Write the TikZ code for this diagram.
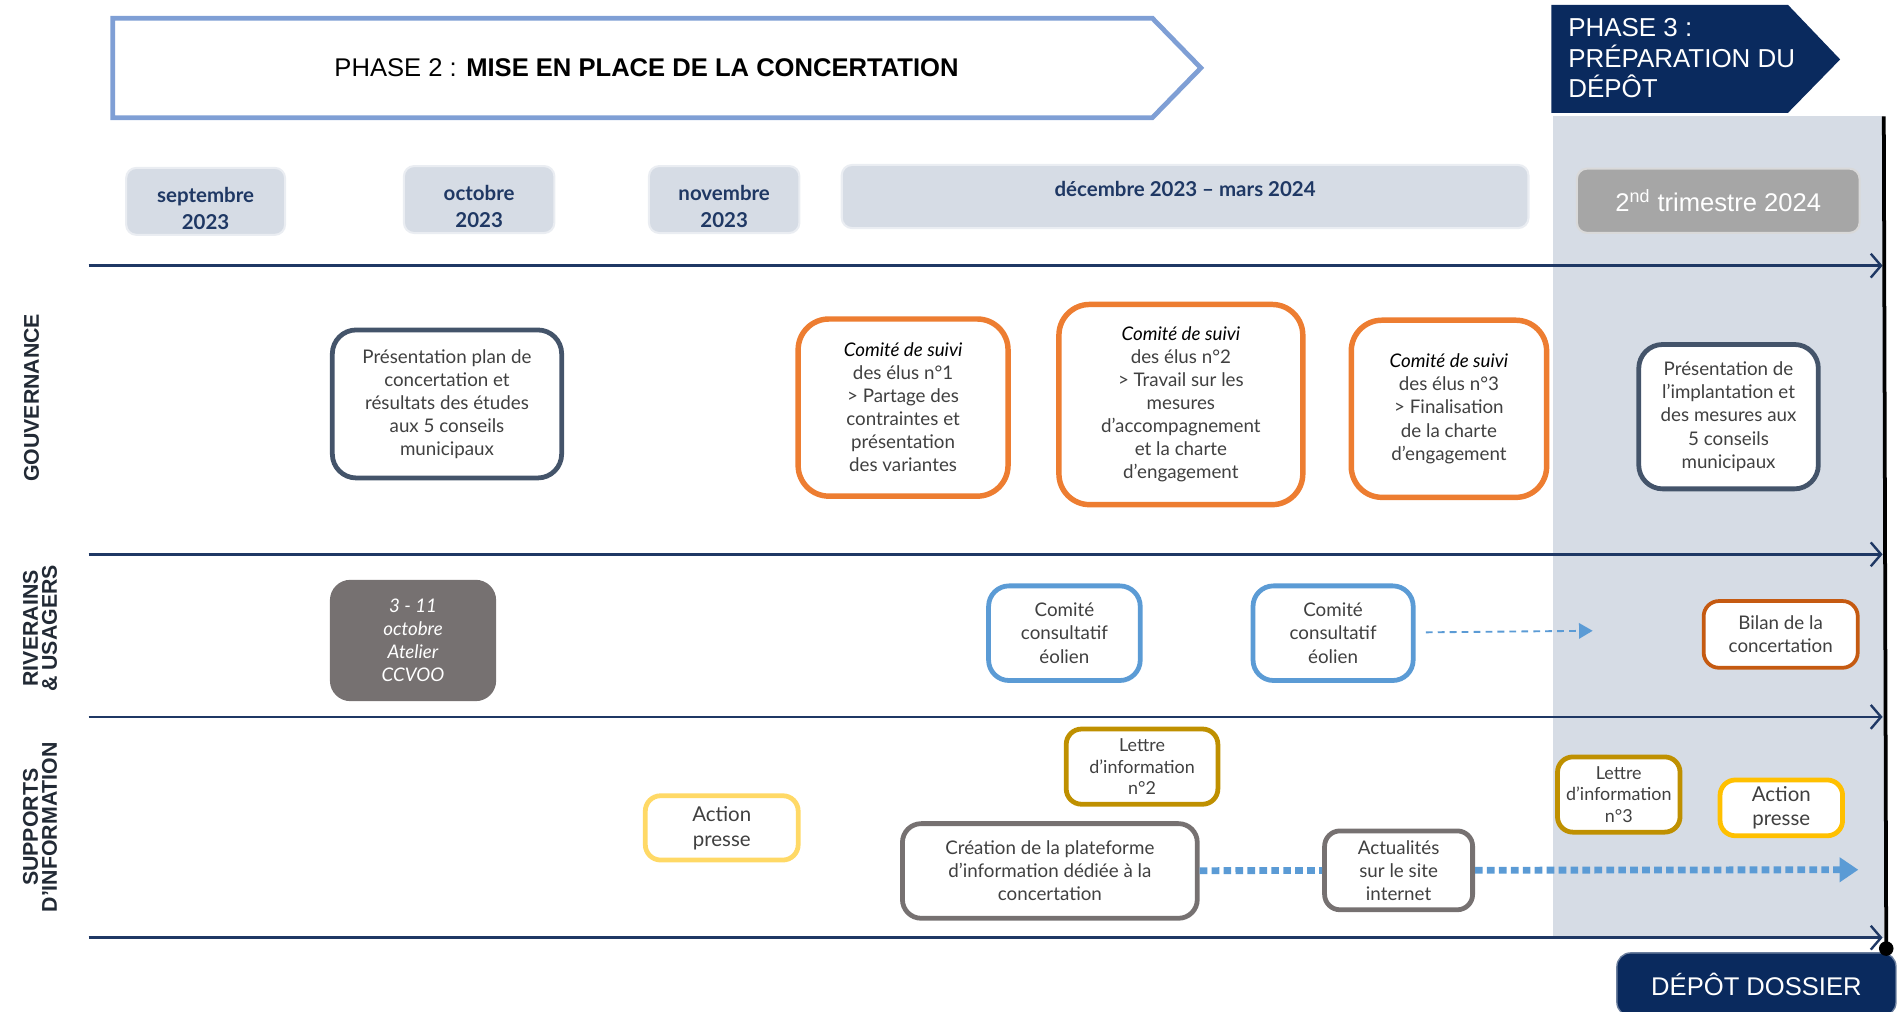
\documentclass[tikz,border=0pt]{standalone}
\usepackage{fontspec}
\setmainfont{Lato}
\newfontfamily\arialf{Liberation Sans}
\usetikzlibrary{%
  arrows.meta,%
  calc%
}
\definecolor{navy}{RGB}{31,56,100}
\definecolor{deepnavy}{RGB}{10,42,94}
\definecolor{mistblue}{RGB}{214,220,229}
\definecolor{phaseblue}{RGB}{127,159,213}
\definecolor{slate}{RGB}{68,84,106}
\definecolor{orangeb}{RGB}{237,125,49}
\definecolor{darkorange}{RGB}{197,90,17}
\definecolor{blueb}{RGB}{91,155,213}
\definecolor{paleyellow}{RGB}{255,217,102}
\definecolor{gold}{RGB}{191,144,0}
\definecolor{amber}{RGB}{255,192,0}
\definecolor{stone}{RGB}{118,113,113}
\definecolor{textgray}{RGB}{64,64,64}
\definecolor{labelnavy}{RGB}{34,42,53}

\begin{document}
\begin{tikzpicture}[x=0.025cm,y=-0.025cm,
  box/.style={draw,rounded corners=14pt,line width=2.8pt,fill=white,align=center,inner sep=1pt,text=textgray,font=\fontsize{11}{13.5}\selectfont},
  small/.style={box,rounded corners=9pt},
  month/.style={draw=mistblue!50!white,line width=1.2pt,fill=mistblue,rounded corners=6pt,align=center,text=navy,font=\bfseries\fontsize{12}{15.5}\selectfont},
  lane/.style={draw=navy,line width=1.4pt,-{Straight Barb[length=6pt,width=14pt]}},
  lanetitle/.style={rotate=90,align=center,text=labelnavy,font=\arialf\bfseries\fontsize{12.5}{11}\selectfont},
  web/.style={blueb,line width=4pt,dash pattern=on 4.5pt off 2.5pt}
]
\useasboundingbox (0,0) rectangle (1568,833.5);
\fill[mistblue] (1280,96) rectangle (1553,773);
%
\draw[phaseblue,line width=2.8pt,fill=white] (93,15) -- (950,15) -- (990,56) -- (950,97) -- (93,97) -- cycle;
\node[font=\arialf\fontsize{15}{17}\selectfont] (ph2) at (533,56) {PHASE 2 : \textbf{MISE EN PLACE DE LA CONCERTATION}};
\fill[deepnavy] (1279,4) -- (1474,4) -- (1517,49) -- (1474,93) -- (1279,93) -- cycle;
\node[anchor=west,align=left,text=white,font=\arialf\fontsize{15.2}{18}\selectfont] (ph3) at (1288,48) {PHASE 3 :\\PRÉPARATION DU\\DÉPÔT};
%
\node[month,minimum width=3.275cm,minimum height=1.25cm] (sep) at (169.5,166) {\rule{0pt}{17pt}septembre\\2023};
\node[month,minimum width=3.1cm,minimum height=1.275cm] (oct) at (395,164.5) {\rule{0pt}{17pt}octobre\\2023};
\node[month,minimum width=3.1cm,minimum height=1.275cm] (nov) at (597,164.5) {\rule{0pt}{17pt}novembre\\2023};
\node[month,minimum width=14.15cm,minimum height=1.3cm] (dec) at (977,162) {\rule[-9pt]{0pt}{0pt}décembre 2023 – mars 2024};
\node[month,fill=black!35,draw=black!15,text=white,font=\arialf\fontsize{15}{18}\selectfont,minimum width=5.825cm,minimum height=1.325cm] (tri) at (1416.5,165.5) {2\textsuperscript{nd} trimestre 2024};
%
\foreach \y/\n in {219/a,457/b,591/c,773/d}{
  \coordinate (\n w) at (73,\y);
  \coordinate (\n e) at (1552,\y);
  \draw[lane] (\n w) -- (\n e);
}
\node[lanetitle] (gouv) at (26,328) {GOUVERNANCE};
\node[lanetitle] (riv) at (33,518) {RIVERAINS\\\& USAGERS};
\node[lanetitle] (supp) at (33,682) {SUPPORTS\\D’INFORMATION};
%
\node[box,draw=slate,minimum width=4.725cm,minimum height=3.05cm] (P1) at (368.5,333) {Présentation plan de\\concertation et\\résultats des études\\aux 5 conseils\\municipaux};
\node[box,draw=orangeb,line width=3.2pt,rounded corners=18pt,minimum width=4.325cm,minimum height=3.65cm] (C1) at (744.5,336) {\textcolor{black}{\textit{Comité de suivi}}\\des élus n°1\\> Partage des\\contraintes et\\présentation\\des variantes};
\node[box,draw=orangeb,line width=3.2pt,rounded corners=18pt,minimum width=5.025cm,minimum height=4.125cm] (C2) at (973.5,333.5) {\textcolor{black}{\textit{Comité de suivi}}\\des élus n°2\\> Travail sur les\\mesures\\d’accompagnement\\et la charte\\d’engagement};
\node[box,draw=orangeb,line width=3.2pt,rounded corners=18pt,minimum width=4.025cm,minimum height=3.65cm] (C3) at (1194.5,337) {\textcolor{black}{\textit{Comité de suivi}}\\des élus n°3\\> Finalisation\\de la charte\\d’engagement};
\node[box,draw=slate,minimum width=3.7cm,minimum height=2.975cm] (P2) at (1425,343.5) {Présentation de\\l’implantation et\\des mesures aux\\5 conseils\\municipaux};
%
\node[small,fill=stone,draw=none,text=white,font=\itshape\fontsize{11}{13.5}\selectfont,minimum width=3.425cm,minimum height=2.5cm,rounded corners=12pt] (At) at (340.5,528) {3 - 11\\octobre\\Atelier\\CCVOO};
\node[small,draw=blueb,rounded corners=12pt,minimum width=3.125cm,minimum height=1.95cm] (CC1) at (877.5,522) {Comité\\consultatif\\éolien};
\node[small,draw=blueb,rounded corners=12pt,minimum width=3.3cm,minimum height=1.95cm] (CC2) at (1099,522) {Comité\\consultatif\\éolien};
\node[small,draw=darkorange,line width=2.2pt,minimum width=3.175cm,minimum height=1.375cm] (Bil) at (1468,523) {Bilan de la\\concertation};
\coordinate (cnext) at (1313,520);
%
\node[small,draw=paleyellow,font=\fontsize{12}{14.5}\selectfont,minimum width=3.15cm,minimum height=1.325cm] (AP1) at (595,682.5) {Action\\presse};
\node[small,draw=gold,font=\fontsize{10.5}{12.8}\selectfont,minimum width=3.125cm,minimum height=1.55cm] (L2) at (941.5,632) {Lettre\\d’information\\n°2};
\node[small,draw=stone,rounded corners=11pt,minimum width=6.075cm,minimum height=1.95cm] (Cr) at (865.5,718) {Création de la plateforme\\d’information dédiée à la\\concertation};
\node[small,draw=stone,minimum width=3.05cm,minimum height=1.625cm] (Act) at (1153,717.5) {Actualités\\sur le site\\internet};
\node[small,draw=gold,font=\fontsize{10.5}{12.8}\selectfont,minimum width=2.525cm,minimum height=1.55cm] (L3) at (1334.5,655) {Lettre\\d’information\\n°3};
\node[small,draw=amber,font=\fontsize{12}{14.5}\selectfont,minimum width=2.525cm,minimum height=1.15cm] (AP2) at (1468.5,666) {Action\\presse};
\coordinate (webend) at (1532,717);
%
\node[fill=deepnavy,draw=deepnavy!60!white,line width=0.8pt,rounded corners=8pt,text=white,font=\arialf\fontsize{15}{18}\selectfont,minimum width=5.75cm,minimum height=1.3cm,anchor=north] (Dep) at (1448,785) {DÉPÔT DOSSIER};
\coordinate (top) at (1553,96);
\coordinate (due) at (1555,782);
\draw[line width=2.2pt] (top) -- (due);
\fill (due) circle (6);
%
\draw[blueb,line width=1.1pt,dash pattern=on 4pt off 3pt,shorten <=6pt,-{Triangle[length=8pt,width=9pt]}] (CC2) -- (cnext);
\draw[web] (Cr) -- (Act);
\draw[web,-{Triangle[length=11pt,width=14pt]}] (Act) -- (webend);
\end{tikzpicture}
\end{document}
